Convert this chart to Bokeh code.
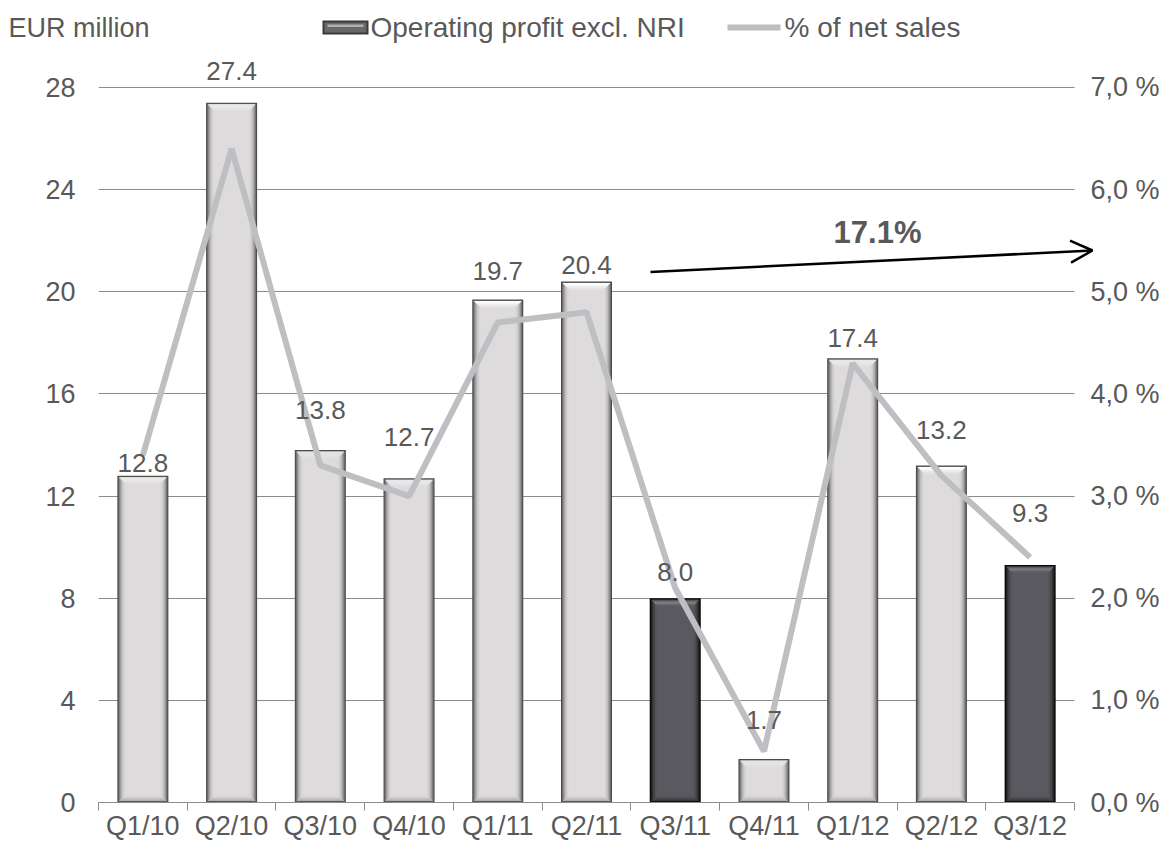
from bokeh.plotting import figure
from bokeh.layouts import column
from bokeh.models import (Range1d, LinearAxis, FixedTicker, Label, Arrow, OpenHead,
                          ColumnDataSource, Grid)
from bokeh.embed import file_html
from bokeh.resources import INLINE
from bokeh.core.properties import value

# ---------------- data ----------------
quarters = ["Q1/10", "Q2/10", "Q3/10", "Q4/10", "Q1/11", "Q2/11",
            "Q3/11", "Q4/11", "Q1/12", "Q2/12", "Q3/12"]
profit = [12.8, 27.4, 13.8, 12.7, 19.7, 20.4, 8.0, 1.7, 17.4, 13.2, 9.3]
pct_sales = [3.4, 6.4, 3.3, 3.0, 4.7, 4.8, 2.1, 0.5, 4.3, 3.2, 2.4]
dark_quarters = ["Q3/11", "Q3/12"]
left_ticks = [0, 4, 8, 12, 16, 20, 24, 28]
right_ticks = [0, 1, 2, 3, 4, 5, 6, 7]
right_tick_labels = ["0,0 %", "1,0 %", "2,0 %", "3,0 %", "4,0 %", "5,0 %", "6,0 %", "7,0 %"]
unit_label = "EUR million"
series_names = ["Operating profit excl. NRI", "% of net sales"]
growth_label = "17.1%"

# ---------------- styling / layout ----------------
# distance (px) of each value label's centre above its bar top (layout only)
label_lift_px = [13, 32, 40, 41, 28, 17, 26, 39, 20, 35, 52]
FONT = "Liberation Sans"
TXT = "#595959"
GRID = "#8c8c8c"
LINE = "#bebec3"
W = 1165
HH = 52                      # header strip height (page y 0..52)
H = 793                      # main figure height
n = len(quarters)
DATA_L, DATA_R = 98, 1074    # page px of x = 0 and x = n
DATA_B = 802                 # page px of y = 0
PXX = (DATA_R - DATA_L) / n
PXY = 25.536
HAS_CB = "cross_bounds" in Grid.properties()
FR = 1096 if HAS_CB else DATA_R      # page px of frame right edge
BL, BR, BT = DATA_L, W - FR, 0
BB = (HH + H) - DATA_B
frame_h = DATA_B - HH
y_top = frame_h / PXY
x_end = n + (FR - DATA_R) / PXX


def X(px):
    return (px - DATA_L) / PXX


def Y(py):
    return (DATA_B - py) / PXY


dx = 1.0 / PXX
dy = 1.0 / PXY

# ---------------- header (unit + legend); frame aligns with main frame ----------------
h = figure(width=W, height=HH, x_range=Range1d(0, x_end), y_range=Range1d(HH, 0),
           output_backend="svg", toolbar_location=None, x_axis_location=None,
           min_border_left=BL, min_border_right=BR, min_border_top=0, min_border_bottom=0)
h.outline_line_color = None
h.grid.visible = False
ly = 27
ua = h.yaxis[0]
ua.ticker = FixedTicker(ticks=[ly])
ua.major_label_overrides = {float(ly): unit_label}
ua.axis_line_color = None
ua.major_tick_line_color = None
ua.minor_tick_line_color = None
ua.major_tick_out = 0
ua.major_tick_in = 0
ua.major_label_text_font = FONT
ua.major_label_text_font_size = "27px"
ua.major_label_text_color = TXT
ua.major_label_standoff = DATA_L - (8 + 141)

h.quad(left=[X(322)], right=[X(368)], top=[ly - 7], bottom=[ly + 7], fill_color="#3a3a3a", line_color=None)
h.quad(left=[X(324)], right=[X(366)], top=[ly - 5], bottom=[ly + 5], fill_color="#686868", line_color=None)
h.quad(left=[X(327)], right=[X(363)], top=[ly - 3], bottom=[ly - 0.5], fill_color="#b0b0b0", line_color=None)
h.line([X(727), X(780)], [ly, ly], line_color=LINE, line_width=6)
for txt, px in ((series_names[0], 370), (series_names[1], 784)):
    h.add_layout(Label(x=X(px), y=ly, text=txt, text_align="left", text_baseline="middle",
                       text_font=FONT, text_font_size="28px", text_color=TXT))

# ---------------- main figure ----------------
p = figure(width=W, height=H, x_range=Range1d(0, x_end), y_range=Range1d(0, y_top),
           output_backend="svg", toolbar_location=None,
           min_border_left=BL, min_border_right=BR, min_border_top=BT, min_border_bottom=BB)
p.extra_y_ranges = {"pct": Range1d(0, y_top / 4.0)}
p.outline_line_color = None
p.background_fill_color = "white"
p.border_fill_color = "white"

p.xgrid.visible = False
p.ygrid.ticker = FixedTicker(ticks=left_ticks)
p.ygrid.grid_line_color = GRID
p.ygrid.grid_line_width = 1
if HAS_CB:
    p.ygrid.cross_bounds = (0, n)

# ---------------- bars (bevelled) ----------------
xs = [i + 0.5 for i in range(n)]
bar_w = 0.575


def build(group_dark):
    idx = [i for i, q in enumerate(quarters) if (q in dark_quarters) == group_dark]
    return [xs[i] for i in idx], [profit[i] for i in idx]


styles = {
    False: dict(ramp=["#4a4a4a", "#6f6d6e", "#8e8c8d", "#a8a6a7", "#bcbabb", "#cac8c9",
                      "#d4d2d3", "#dad8d9", "#dedbdc"],
                top=["#ffffff", "#fbfbfb", "#f6f6f6", "#f0efef", "#eae9e9", "#e5e3e4",
                     "#e1dfe0", "#dfdcdd"],
                bot=["#b0aeaf", "#bcbabb", "#c7c5c6", "#d0cecf", "#d7d5d6", "#dcd9da"]),
    True: dict(ramp=["#050505", "#1a1a1b", "#2c2c2e", "#3b3b3e", "#46464a", "#4f4f53",
                     "#545458", "#57575c", "#59595f"],
               top=["#5f5f65", "#6a6a70", "#8c8c92", "#8a8a90", "#6e6e74", "#646469",
                    "#5e5e63", "#5a5a60"],
               bot=["#3a3a3d", "#424246", "#4a4a4e", "#505055", "#55555a", "#58585e"]),
}

for dark in (False, True):
    bx, bv = build(dark)
    st = styles[dark]
    for k, col in enumerate(st["ramp"]):
        half = bar_w / 2 - k * dx
        src = ColumnDataSource(dict(
            left=[x - half for x in bx], right=[x + half for x in bx],
            top=[v - k * dy for v in bv], bottom=[k * dy for _ in bv]))
        p.quad(left="left", right="right", top="top", bottom="bottom", source=src,
               fill_color=col, line_color=None)
    for j, col in enumerate(st["top"]):
        half = bar_w / 2 - (j + 2) * dx
        src = ColumnDataSource(dict(
            left=[x - half for x in bx], right=[x + half for x in bx],
            top=[v - (j + 1.5) * dy for v in bv], bottom=[v - (j + 2.5) * dy for v in bv]))
        p.quad(left="left", right="right", top="top", bottom="bottom", source=src,
               fill_color=col, line_color=None)
    for j, col in enumerate(st["bot"]):
        half = bar_w / 2 - (j + 2) * dx
        src = ColumnDataSource(dict(
            left=[x - half for x in bx], right=[x + half for x in bx],
            top=[(j + 2.5) * dy for _ in bv], bottom=[(j + 1.5) * dy for _ in bv]))
        p.quad(left="left", right="right", top="top", bottom="bottom", source=src,
               fill_color=col, line_color=None)

# ---------------- % line ----------------
p.line(xs, pct_sales, y_range_name="pct", line_color=LINE, line_width=6)

# ---------------- value labels ----------------
p.text(x=xs, y=[v + lift * dy for v, lift in zip(profit, label_lift_px)],
       text=[f"{v:.1f}" for v in profit],
       text_align="center", text_baseline="middle", text_font=value(FONT),
       text_font_size="26px", text_color=TXT)

# ---------------- axes ----------------
yl = p.yaxis[0]
yl.ticker = FixedTicker(ticks=left_ticks)
yl.axis_line_color = None
yl.major_tick_line_color = None
yl.minor_tick_line_color = None
yl.major_tick_out = 0
yl.major_tick_in = 0
yl.major_label_standoff = 23
yl.major_label_text_font = FONT
yl.major_label_text_font_size = "27px"
yl.major_label_text_color = TXT

yr = LinearAxis(y_range_name="pct", ticker=FixedTicker(ticks=right_ticks),
                major_label_overrides={float(t): s for t, s in zip(right_ticks, right_tick_labels)})
yr.axis_line_color = None
yr.major_tick_line_color = None
yr.minor_tick_line_color = None
yr.major_tick_out = 0
yr.major_tick_in = 0
yr.major_label_standoff = 1090 - FR
yr.major_label_text_font = FONT
yr.major_label_text_font_size = "27px"
yr.major_label_text_color = TXT
p.add_layout(yr, "right")

xa = p.xaxis[0]
xa.ticker = FixedTicker(ticks=xs, minor_ticks=list(range(n + 1)))
xa.major_label_overrides = {x: q for x, q in zip(xs, quarters)}
xa.bounds = (0, n)
xa.axis_line_color = GRID
xa.major_tick_out = 0
xa.major_tick_in = 0
xa.major_tick_line_color = None
xa.minor_tick_out = 8
xa.minor_tick_in = 0
xa.minor_tick_line_color = GRID
xa.major_label_standoff = 0
xa.major_label_text_font = FONT
xa.major_label_text_font_size = "27px"
xa.major_label_text_color = TXT

# ---------------- growth arrow ----------------
tip = min(1092, FR - 3)
p.add_layout(Arrow(end=OpenHead(size=22, line_width=2.5, line_color="black"),
                   x_start=X(650), y_start=Y(271.5), x_end=X(tip), y_end=Y(250),
                   line_width=2.5, line_color="black"))
p.add_layout(Label(x=X(877), y=Y(232), text=growth_label, text_align="center",
                   text_baseline="middle", text_font=FONT, text_font_size="31px",
                   text_font_style="bold", text_color=TXT))

open("out.html", "w").write(file_html(column(h, p), INLINE))
